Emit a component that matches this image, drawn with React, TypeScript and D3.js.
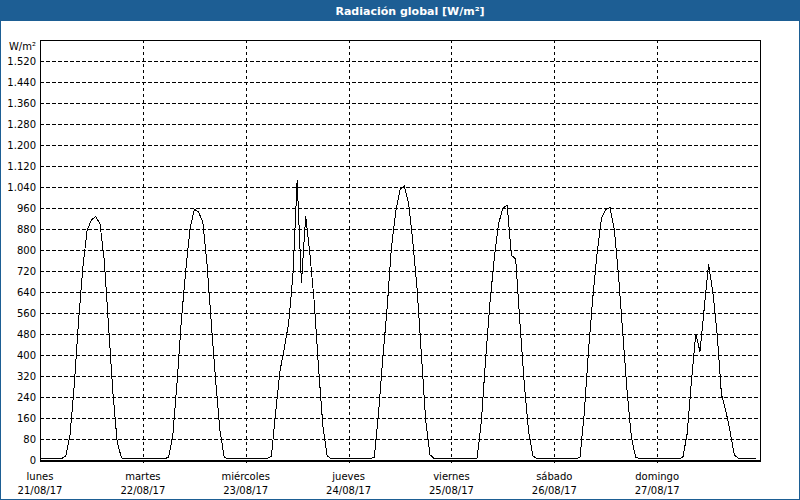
import React from 'react';
import * as d3 from 'd3';

const title = 'Radiación global [W/m²]';
const unitLabel = 'W/m²';
const dayNames = ['lunes', 'martes', 'miércoles', 'jueves', 'viernes', 'sábado', 'domingo'];
const dayDates = ['21/08/17', '22/08/17', '23/08/17', '24/08/17', '25/08/17', '26/08/17', '27/08/17'];
const yTicks = [0, 80, 160, 240, 320, 400, 480, 560, 640, 720, 800, 880, 960, 1040, 1120, 1200, 1280, 1360, 1440, 1520];
const yMax = 1600;
const hoursPerDay = 24;

// hourly values W/m² (hour 0..23) per day
const lunes = [5, 5, 5, 5, 5, 5, 15, 95, 285, 530, 735, 875, 915, 927, 900, 760, 510, 260, 70, 8, 5, 5, 5, 5];
const martes = [5, 5, 5, 5, 5, 5, 10, 95, 300, 535, 720, 880, 955, 945, 905, 740, 515, 300, 110, 10, 5, 5, 5, 5];
const miercoles = [5, 5, 5, 5, 5, 5, 15, 185, 340, 425, 520, 700, 1065, 675, 930, 780, 600, 350, 130, 15, 5, 5, 5, 5];
const jueves = [5, 5, 5, 5, 5, 5, 10, 180, 390, 580, 810, 945, 1030, 1045, 978, 830, 650, 400, 150, 20, 5, 5, 5, 5];
const viernes = [5, 5, 5, 5, 5, 5, 8, 150, 390, 600, 770, 900, 960, 970, 780, 765, 520, 290, 110, 15, 5, 5, 5, 5];
const sabado = [5, 5, 5, 5, 5, 5, 10, 180, 420, 620, 790, 920, 955, 962, 880, 700, 480, 260, 85, 10, 5, 5, 5, 5];
const domingo = [5, 5, 5, 5, 5, 5, 10, 100, 300, 480, 413, 580, 745, 640, 480, 250, 190, 110, 20, 5, 5, 5, 5, 5];

const days = [lunes, martes, miercoles, jueves, viernes, sabado, domingo];

const W = 800;
const H = 500;
const plot = { left: 40, top: 40, right: 760, bottom: 460 };
const blue = '#1d5e94';
const font = '"DejaVu Sans", Verdana, sans-serif';

const esLocale = d3.formatLocale({ decimal: ',', thousands: '.', grouping: [3], currency: ['', '€'] });
const fmt = esLocale.format(',d');

export default function App() {
  const series = days.flat();
  const x = d3.scaleLinear().domain([0, days.length * hoursPerDay]).range([plot.left, plot.right]);
  const y = d3.scaleLinear().domain([0, yMax]).range([plot.bottom, plot.top]);
  const line = d3
    .line<number>()
    .x((_, i) => x(i))
    .y((d) => y(d));

  const px = (v: number) => Math.round(v) + 0.5;

  return (
    <svg
      width={W}
      height={H}
      style={{ position: 'fixed', left: 0, top: 0, background: '#fff' }}
      fontFamily={font}
    >
      <rect x={0} y={0} width={W} height={H} fill="#fff" />
      <rect x={0} y={0} width={W} height={21} fill={blue} />
      <rect x={0.5} y={0.5} width={W - 1} height={H - 1} fill="none" stroke={blue} />
      <text x={410} y={15} textAnchor="middle" fill="#fff" fontWeight="bold" fontSize={11}>
        {title}
      </text>

      {/* horizontal grid */}
      {yTicks
        .filter((t) => t > 0)
        .map((t) => (
          <line
            key={'h' + t}
            x1={plot.left}
            x2={plot.right}
            y1={px(y(t))}
            y2={px(y(t))}
            stroke="#000"
            strokeDasharray="4,2"
            shapeRendering="crispEdges"
          />
        ))}
      {/* vertical grid */}
      {dayNames.map((_, i) =>
        i > 0 ? (
          <line
            key={'v' + i}
            x1={px(x(i * hoursPerDay))}
            x2={px(x(i * hoursPerDay))}
            y1={plot.top}
            y2={plot.bottom + 3}
            stroke="#000"
            strokeDasharray="3,3"
            shapeRendering="crispEdges"
          />
        ) : null
      )}

      {/* frame */}
      <rect
        x={plot.left + 0.5}
        y={plot.top + 0.5}
        width={plot.right - plot.left}
        height={plot.bottom - plot.top}
        fill="none"
        stroke="#000"
        shapeRendering="crispEdges"
      />
      <line x1={plot.left} x2={plot.right + 1} y1={plot.bottom + 1.5} y2={plot.bottom + 1.5} stroke="#000" shapeRendering="crispEdges" />

      {/* y labels */}
      {yTicks.map((t) => (
        <text key={'yl' + t} x={36} y={y(t)} dy="0.35em" textAnchor="end" fontSize={10} fill="#000">
          {fmt(t)}
        </text>
      ))}
      <text x={36} y={y(yMax) + 6} dy="0.35em" textAnchor="end" fontSize={10} fill="#000">
        {unitLabel}
      </text>

      {/* x labels */}
      {dayNames.map((n, i) => (
        <g key={'xl' + i} transform={`translate(${x(i * hoursPerDay)},0)`}>
          <text x={0} y={476} dy="0.35em" textAnchor="middle" fontSize={10} fill="#000">
            {n}
          </text>
          <text x={0} y={490} dy="0.35em" textAnchor="middle" fontSize={10} fill="#000">
            {dayDates[i]}
          </text>
        </g>
      ))}

      <path d={line(series) || ''} fill="none" stroke="#000" strokeWidth={1} shapeRendering="crispEdges" />
    </svg>
  );
}
